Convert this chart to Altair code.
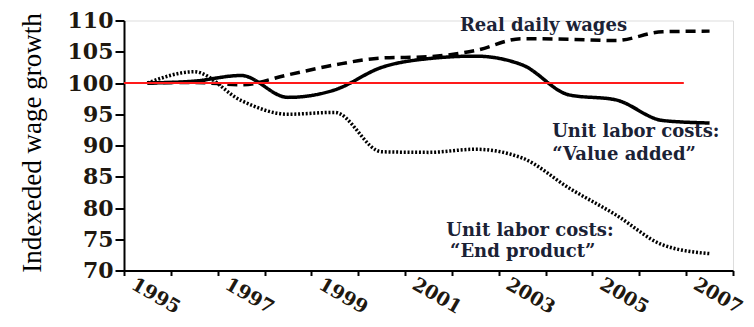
import altair as alt
import pandas as pd

years = list(range(1995, 2008))
value_added = [100, 100.3, 101.2, 97.7, 98.9, 102.5, 103.9, 104.3, 102.9, 98.1, 97.3, 94.0, 93.6]
real_wages = [100, 100.1, 99.7, 101.3, 102.9, 104.0, 104.2, 105.2, 107.1, 107.0, 106.8, 108.2, 108.3]
end_product = [100, 101.8, 97.2, 95.0, 95.3, 89.0, 88.9, 89.4, 88.0, 83.2, 78.9, 74.1, 72.7]

series_names = ["Value added", "Real daily wages", "End product"]
y_ticks = [70, 75, 80, 85, 90, 95, 100, 105, 110]
x_tick_values = [y - 0.5 for y in years] + [2007.5]

ann_text = ["Real daily wages", "Unit labor costs:", "\u201cValue added\u201d",
            "Unit labor costs:", "\u201cEnd product\u201d"]
ann_x = [2001.67, 2003.64, 2003.64, 2001.38, 2001.46]
ann_y = [109.2, 92.1, 88.5, 76.4, 72.9]

ref_value = [100]
ref_x = [1994.5]
ref_x2 = [2006.45]

rows = []
for name, vals in zip(series_names, [value_added, real_wages, end_product]):
    for yr, v in zip(years, vals):
        rows.append({"year": yr, "value": v, "series": name})
df = pd.DataFrame(rows)
ann_df = pd.DataFrame({"text": ann_text, "x": ann_x, "y": ann_y})
ref_df = pd.DataFrame({"x": ref_x, "x2": ref_x2, "y": ref_value})

xscale = alt.Scale(domain=[1994.5, 2007.5], nice=False, zero=False)
yscale = alt.Scale(domain=[70, 110], nice=False, zero=False)

x_axis = alt.Axis(
    values=x_tick_values,
    labelExpr="datum.value % 2 == 0.5 ? toString(datum.value + 0.5) : ''",
    labelOffset=13,
    labelAngle=30,
    labelAlign="left",
    labelBaseline="top",
    labelPadding=-1,
    labelOverlap=False,
    labelBound=False,
    labelFlush=False,
    labelFont="DejaVu Serif",
    labelFontWeight="bold",
    labelFontSize=19,
    labelColor="#201810",
    tickSize=5,
    tickWidth=2,
    tickColor="black",
    domainColor="black",
    domainWidth=2,
    grid=False,
    title=None,
)
y_axis = alt.Axis(
    values=y_ticks,
    tickCount=9,
    labelOverlap=False,
    labelBound=False,
    labelFlush=False,
    labelFont="DejaVu Serif",
    labelFontWeight="bold",
    labelFontSize=22,
    labelColor="#201810",
    labelPadding=2,
    tickSize=9,
    tickWidth=2,
    tickColor="black",
    domainColor="black",
    domainWidth=2,
    grid=False,
    title="Indexeded wage growth",
    titleFont="Liberation Serif",
    titleFontWeight="normal",
    titleFontSize=27,
    titleColor="black",
    titleAngle=-90,
    titleX=-92,
    titleY=122,
    titleAlign="center",
    titleBaseline="middle",
)

X = lambda f: alt.X(f, scale=xscale, axis=x_axis)
Y = lambda f: alt.Y(f, scale=yscale, axis=y_axis)

lines = alt.Chart(df).mark_line(color="black", strokeWidth=3.5, interpolate="monotone").encode(
    x=X("year:Q"),
    y=Y("value:Q"),
    strokeDash=alt.StrokeDash(
        "series:N",
        scale=alt.Scale(domain=series_names, range=[[1, 0], [10, 6], [2, 1.8]]),
        legend=None,
    ),
    strokeWidth=alt.StrokeWidth(
        "series:N",
        scale=alt.Scale(domain=series_names, range=[3.5, 3.5, 3.0]),
        legend=None,
    ),
)

ref = alt.Chart(ref_df).mark_rule(color="#ff1a1a", strokeWidth=2).encode(
    x=X("x:Q"),
    x2="x2:Q",
    y=Y("y:Q"),
)

ann = alt.Chart(ann_df).mark_text(
    align="left", baseline="middle", font="DejaVu Serif", fontWeight="bold",
    fontSize=18, color="#1b2235",
).encode(
    x=X("x:Q"),
    y=Y("y:Q"),
    text="text:N",
)

chart = alt.layer(lines, ref, ann).properties(
    width=609,
    height=250,
    autosize=alt.AutoSizeParams(type="none"),
    padding={"left": 116, "top": 12.5, "right": 13, "bottom": 48},
).configure_view(stroke=None).configure(background="white")

chart.save("out.html", embed_options={"renderer": "svg", "actions": False})
